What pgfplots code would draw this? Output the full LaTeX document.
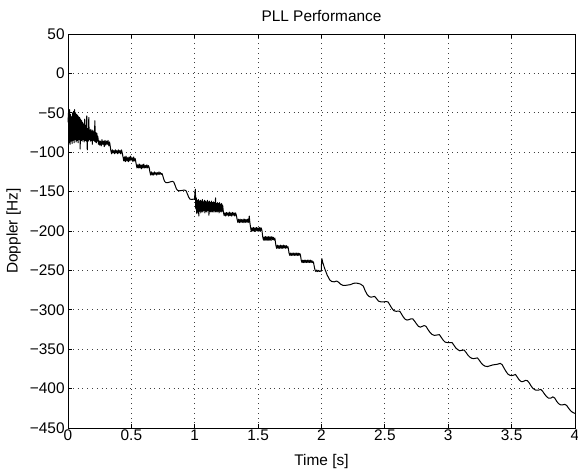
\documentclass[border=0pt]{standalone}
\usepackage{fontspec}
\setmainfont{Liberation Sans}
\usepackage{pgfplots}
\pgfplotsset{compat=1.18}
\begin{document}
\fontsize{7.7}{9}\selectfont
\begin{tikzpicture}
\useasboundingbox (-34pt,-20pt) rectangle (255pt,214pt);
\begin{axis}[
  at={(0,0)},anchor=south west,
  scale only axis,width=253.5pt,height=197pt,
  xmin=0,xmax=4,ymin=-450,ymax=50,
  xtick={0,0.5,1,1.5,2,2.5,3,3.5,4},
  xticklabels={0,0.5,1,1.5,2,2.5,3,3.5,4},
  ytick={-450,-400,-350,-300,-250,-200,-150,-100,-50,0,50},
  yticklabels={−450,−400,−350,−300,−250,−200,−150,−100,−50,0,50},
  tick align=inside,tick pos=both,major tick length=2pt,
  tick style={black,line width=0.4pt},
  axis line style={black,line width=0.5pt},
  grid=major,major grid style={dotted,black!75,line width=0.45pt},
  xticklabel style={inner sep=0.6pt},
  yticklabel style={inner sep=1.5pt},
  xlabel={Time [s]},ylabel={Doppler [Hz]},
  xlabel style={at={(axis description cs:0.5,-0.094)},anchor=base,inner sep=0pt},
  ylabel style={at={(axis description cs:-0.107,0.5)},anchor=center,inner sep=0pt},
  clip=false,
]
\node[anchor=base,inner sep=0pt] at (axis description cs:0.5,1.032) {PLL Performance};
\addplot[black,line width=0.5pt,line join=round,mark=none] coordinates {
(0,-62)(0.004,-50)(0.008,-88)(0.012,-46)(0.016,-90)(0.020,-52)(0.024,-86)(0.028,-55)(0.032,-89)(0.036,-50)
(0.040,-85)(0.044,-48)(0.048,-88)(0.052,-46)(0.056,-84)(0.060,-50)(0.064,-87)(0.068,-52)(0.072,-85)(0.076,-53)
(0.080,-88)(0.084,-55)(0.088,-84)(0.092,-56)(0.096,-96)(0.100,-58)(0.104,-85)(0.108,-60)(0.112,-86)(0.116,-62)
(0.120,-84)(0.124,-64)(0.128,-87)(0.132,-58)(0.136,-85)(0.140,-66)(0.144,-86)(0.148,-54)(0.152,-97)(0.156,-70)
(0.160,-86)(0.164,-56)(0.168,-84)(0.172,-72)(0.176,-86)(0.180,-71)(0.184,-85)(0.188,-73)(0.192,-90)(0.196,-72)
(0.200,-85)(0.204,-74)(0.208,-86)(0.212,-60)(0.216,-87)(0.220,-75)(0.224,-88)(0.228,-76)(0.232,-86)(0.236,-80)
(0.240,-90)
(0.244,-85)(0.250,-91)(0.256,-86)(0.262,-92)(0.268,-84)(0.274,-90)(0.280,-86)(0.286,-93)(0.292,-85)(0.298,-91)
(0.304,-86)(0.310,-90)(0.316,-85)(0.322,-92)(0.328,-87)(0.332,-91)
(0.338,-98)(0.344,-102)(0.350,-97)(0.356,-101)(0.362,-98)(0.368,-102)(0.374,-97)(0.380,-101)(0.386,-98)(0.392,-102)
(0.398,-97)(0.404,-101)(0.410,-98)(0.416,-102)(0.422,-97)(0.428,-101)
(0.434,-106)(0.440,-111)(0.446,-106)(0.452,-112)(0.458,-105)(0.464,-111)(0.470,-107)(0.476,-112)(0.482,-106)(0.488,-111)
(0.494,-105)(0.500,-110)(0.506,-107)(0.512,-112)(0.518,-106)(0.524,-111)(0.530,-108)
(0.538,-115)(0.544,-120)(0.550,-116)(0.556,-120)(0.562,-115)(0.568,-120)(0.574,-116)(0.580,-121)(0.586,-116)(0.592,-120)
(0.598,-115)(0.604,-120)(0.610,-117)(0.616,-120)(0.622,-116)(0.628,-120)(0.634,-117)(0.640,-119)
(0.646,-125)(0.652,-129)(0.658,-125)(0.664,-129)(0.670,-126)(0.676,-129)(0.682,-125)(0.688,-128)(0.694,-126)(0.700,-129)
(0.706,-126)(0.712,-128)(0.718,-125)(0.724,-128)(0.730,-126)(0.736,-128)(0.742,-127)
(0.748,-130)(0.755,-134)(0.762,-137)(0.772,-138.5)(0.790,-138.5)(0.810,-137.5)(0.825,-137)(0.835,-138)(0.845,-142)(0.855,-146.5)
(0.865,-148.5)(0.880,-149)(0.900,-148.5)(0.920,-148)(0.932,-149)(0.942,-153)(0.952,-157)(0.962,-159.5)(0.975,-160)(0.990,-159.5)
(0.998,-160)
(1.002,-150)(1.005,-147)(1.008,-172)(1.012,-158)(1.016,-178)(1.020,-161)(1.024,-176)(1.028,-160)(1.032,-181)(1.036,-162)
(1.040,-175)(1.044,-161)(1.048,-177)(1.052,-162)(1.056,-175)(1.060,-160)(1.064,-176)(1.068,-163)(1.072,-174)(1.076,-161)
(1.080,-177)(1.084,-162)(1.088,-175)(1.092,-163)(1.096,-176)(1.100,-161)(1.104,-174)(1.108,-163)(1.112,-180)(1.116,-162)
(1.120,-175)(1.124,-164)(1.128,-176)(1.132,-162)(1.136,-175)(1.140,-164)(1.144,-176)(1.148,-163)(1.152,-174)(1.156,-164)
(1.160,-176)(1.164,-158)(1.168,-175)(1.172,-165)(1.176,-176)(1.180,-164)(1.184,-175)(1.188,-165)(1.192,-177)(1.196,-164)
(1.200,-175)(1.204,-166)(1.208,-176)(1.212,-165)(1.216,-175)(1.220,-167)
(1.226,-176)(1.232,-180.5)(1.238,-177)(1.244,-181)(1.250,-176.5)(1.256,-180)(1.262,-177)(1.268,-181)(1.274,-176)(1.280,-180.5)
(1.286,-177)(1.292,-181)(1.298,-176.5)(1.304,-180)(1.310,-177)(1.316,-181)(1.322,-177)(1.328,-180)
(1.334,-185)(1.340,-189)(1.346,-185)(1.352,-189.5)(1.358,-185)(1.364,-189)(1.370,-185.5)(1.376,-189)(1.382,-185)(1.388,-189.5)
(1.394,-185)(1.400,-189)(1.406,-185.5)(1.412,-189)(1.418,-185)(1.424,-189)(1.430,-181)(1.434,-188)
(1.440,-195)(1.446,-200.5)(1.452,-196)(1.458,-200)(1.464,-195.5)(1.470,-200.5)(1.476,-196)(1.482,-200)(1.488,-195.5)(1.494,-200)
(1.500,-196)(1.506,-200.5)(1.512,-195.5)(1.518,-200)(1.524,-196)(1.530,-199)
(1.536,-207)(1.542,-211.5)(1.548,-207.5)(1.554,-212)(1.560,-207)(1.566,-211.5)(1.572,-207.5)(1.578,-212)(1.584,-207)(1.590,-211.5)
(1.596,-207.5)(1.602,-212)(1.608,-207)(1.614,-211)(1.620,-208)(1.626,-211.5)(1.632,-209)
(1.640,-218)(1.646,-222)(1.652,-218)(1.658,-222)(1.664,-218.5)(1.670,-222)(1.676,-218)(1.682,-222)(1.688,-218.5)(1.694,-222)
(1.700,-218)(1.706,-221.5)(1.712,-218.5)(1.718,-222)(1.724,-218.5)(1.730,-221.5)(1.736,-220)
(1.744,-228)(1.750,-231)(1.756,-228)(1.762,-231)(1.768,-228)(1.774,-231)(1.780,-228)(1.786,-231)(1.792,-228)(1.798,-231)
(1.804,-228)(1.810,-231)(1.816,-228)(1.822,-231)(1.828,-228.5)(1.834,-230.5)
(1.840,-237)(1.846,-240)(1.852,-237)(1.858,-240)(1.864,-237)(1.870,-240)(1.876,-237)(1.882,-240)(1.888,-237)(1.894,-240)
(1.900,-237)(1.906,-240)(1.912,-237)(1.918,-240)(1.924,-237.5)(1.930,-240)(1.936,-239)
(1.944,-246)(1.950,-250)(1.956,-251.5)(1.962,-249.5)(1.970,-251.5)(1.978,-250)(1.986,-251.5)(1.994,-250.5)(1.998,-251)
(2.000,-242)(2.003,-235)(2.010,-240)(2.026,-248)(2.045,-256)(2.065,-262)(2.080,-264)(2.100,-264.5)(2.120,-263.5)(2.135,-265)
(2.150,-267.5)(2.170,-269)(2.190,-269)(2.210,-268.5)(2.230,-268)(2.250,-266.5)(2.270,-266)(2.290,-266.5)(2.310,-267.5)(2.330,-270)
(2.345,-276)(2.360,-280.5)(2.375,-283)(2.390,-284)(2.405,-283.5)(2.420,-283)(2.435,-286)(2.450,-289)(2.470,-290)(2.490,-290)
(2.510,-289.5)(2.525,-290)(2.540,-294)(2.555,-298)(2.570,-301)(2.590,-302)(2.605,-301.5)(2.618,-302)(2.630,-305)(2.645,-309)
(2.660,-312)(2.675,-313)(2.690,-312.5)(2.705,-311.5)(2.720,-311.5)(2.735,-314.5)(2.750,-318)(2.765,-321)(2.780,-322)(2.795,-321)
(2.810,-320)(2.825,-321)(2.840,-325)(2.855,-328.5)(2.870,-331)(2.890,-332.5)(2.910,-332)(2.930,-331.5)(2.945,-335)(2.960,-338.5)
(2.975,-341)(2.990,-341.5)(3.010,-341.5)(3.030,-341.5)(3.045,-345)(3.060,-348.5)(3.075,-350.5)(3.090,-352)(3.105,-351.5)(3.125,-351)
(3.140,-354)(3.155,-357.5)(3.170,-360)(3.185,-361.5)(3.200,-362)(3.215,-361.5)(3.230,-361)(3.245,-364)(3.260,-367.5)(3.275,-370)
(3.290,-371.5)(3.310,-372)(3.330,-371)(3.350,-370)(3.370,-369.5)(3.390,-369)(3.410,-368)(3.425,-369.5)(3.440,-374)(3.455,-378)
(3.470,-381.5)(3.485,-383)(3.500,-383.5)(3.515,-383)(3.530,-382)(3.545,-385.5)(3.560,-389)(3.575,-391)(3.590,-391)(3.610,-389.5)
(3.625,-390)(3.640,-393)(3.655,-397)(3.670,-400)(3.690,-402)(3.710,-402)(3.730,-401)(3.745,-403.5)(3.760,-407)(3.775,-410)
(3.790,-412)(3.810,-412)(3.825,-410.5)(3.840,-412)(3.855,-416)(3.870,-419)(3.885,-420.5)(3.905,-420.5)(3.920,-420)(3.935,-421.5)
(3.950,-425)(3.965,-428)(3.980,-430)(4.000,-431.5)
};
\end{axis}
\end{tikzpicture}
\end{document}
